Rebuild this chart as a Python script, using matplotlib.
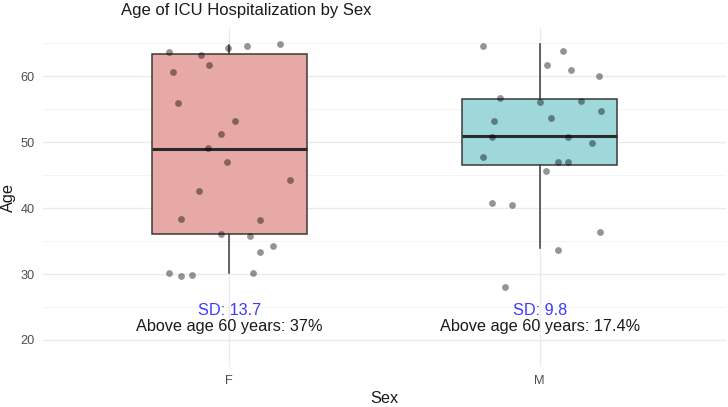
import numpy as np
import matplotlib
matplotlib.use('Agg')
import matplotlib.pyplot as plt

plt.rcParams['font.family'] = ['Liberation Sans', 'DejaVu Sans']

# categories and box summary
sexes = ['F', 'M']
q1 = [36.0, 46.5]
median = [49.0, 50.9]
q3 = [63.4, 56.5]
whisker_low = [30.1, 34.0]
whisker_high = [64.7, 64.8]
box_colors = ['#E6A9A6', '#9ED8DB']

# jittered points: offset from category centre, age
f_dx = [-0.194, -0.091, -0.064, -0.181, -0.003, 0.056, 0.164, -0.165, 0.018, -0.026, -0.069, -0.008,
        0.195, -0.097, -0.156, 0.099, -0.026, 0.067, 0.141, 0.099, -0.195, -0.156, -0.120, 0.077]
f_age = [63.6, 63.2, 61.7, 60.7, 64.3, 64.6, 64.8, 55.9, 53.2, 51.3, 49.1, 47.0,
         44.2, 42.6, 38.3, 38.2, 36.0, 35.8, 34.2, 33.3, 30.2, 29.7, 29.9, 30.2]
m_dx = [-0.184, 0.074, 0.023, 0.100, 0.191, -0.127, 0.001, 0.132, 0.199, -0.148, 0.035, -0.155,
        0.090, 0.168, -0.182, 0.059, 0.092, 0.020, -0.155, -0.090, 0.195, 0.059, -0.112]
m_age = [64.5, 63.8, 61.7, 61.0, 60.0, 56.7, 56.1, 56.3, 54.7, 53.2, 53.7, 50.8,
         50.8, 49.8, 47.7, 47.0, 47.0, 45.6, 40.7, 40.4, 36.3, 33.6, 28.1]

sd_labels = ['SD: 13.7', 'SD: 9.8']
above60_labels = ['Above age 60 years: 37%', 'Above age 60 years: 17.4%']

fig = plt.figure(figsize=(7.28, 4.07), dpi=100)
ax = fig.add_axes([0.0591, 0.0983, 0.9380, 0.8329])

pos = np.arange(1, len(sexes) + 1)

# grid like theme_minimal
for y in [20, 30, 40, 50, 60]:
    ax.axhline(y, color='#EBEBEB', lw=1.0, zorder=0)
for y in [25, 35, 45, 55, 65]:
    ax.axhline(y, color='#F2F2F2', lw=0.6, zorder=0)
for x in pos:
    ax.axvline(x, color='#EBEBEB', lw=1.0, zorder=0)

stats = []
for i in range(len(sexes)):
    stats.append({'q1': q1[i], 'med': median[i], 'q3': q3[i],
                  'whislo': whisker_low[i], 'whishi': whisker_high[i],
                  'fliers': [], 'label': sexes[i]})
bp = ax.bxp(stats, positions=pos, widths=0.5, patch_artist=True, showfliers=False, showcaps=False,
            boxprops=dict(edgecolor='#3a3a3a', linewidth=1.1),
            whiskerprops=dict(color='#3a3a3a', linewidth=1.1),
            medianprops=dict(color='#2a2a2a', linewidth=2.2))
for patch, c in zip(bp['boxes'], box_colors):
    patch.set_facecolor(c)
for artist in bp['boxes'] + bp['whiskers'] + bp['medians']:
    artist.set_zorder(2)

ax.scatter(pos[0] + np.array(f_dx), f_age, s=24, color='black', alpha=0.42, linewidths=0, zorder=3)
ax.scatter(pos[1] + np.array(m_dx), m_age, s=24, color='black', alpha=0.42, linewidths=0, zorder=3)

for i in range(len(sexes)):
    ax.text(pos[i], 24.5, sd_labels[i], color='#3b3bff', fontsize=11.7, ha='center', va='center', zorder=4)
    ax.text(pos[i], 22.1, above60_labels[i], color='#1a1a1a', fontsize=11.7, ha='center', va='center', zorder=4)

ax.set_xlim(0.4, 2.6)
ax.set_ylim(15.9, 67.3)
ax.set_xticks(pos)
ax.set_xticklabels(sexes)
ax.set_yticks([20, 30, 40, 50, 60])
ax.tick_params(length=0, labelsize=9.2, labelcolor='#4D4D4D', pad=6)
for s in ax.spines.values():
    s.set_visible(False)

ax.set_xlabel('Sex', fontsize=11.7, color='#1a1a1a', va='center')
ax.set_ylabel('Age', fontsize=11.7, color='#1a1a1a', va='center')
ax.xaxis.set_label_coords(0.5, -0.094)
ax.yaxis.set_label_coords(-0.051, 0.5)
fig.text(121 / 728, 1 - 15 / 407, 'Age of ICU Hospitalization by Sex', fontsize=12,
         color='#1a1a1a', ha='left', va='baseline')

fig.savefig('out.png', dpi=100)
